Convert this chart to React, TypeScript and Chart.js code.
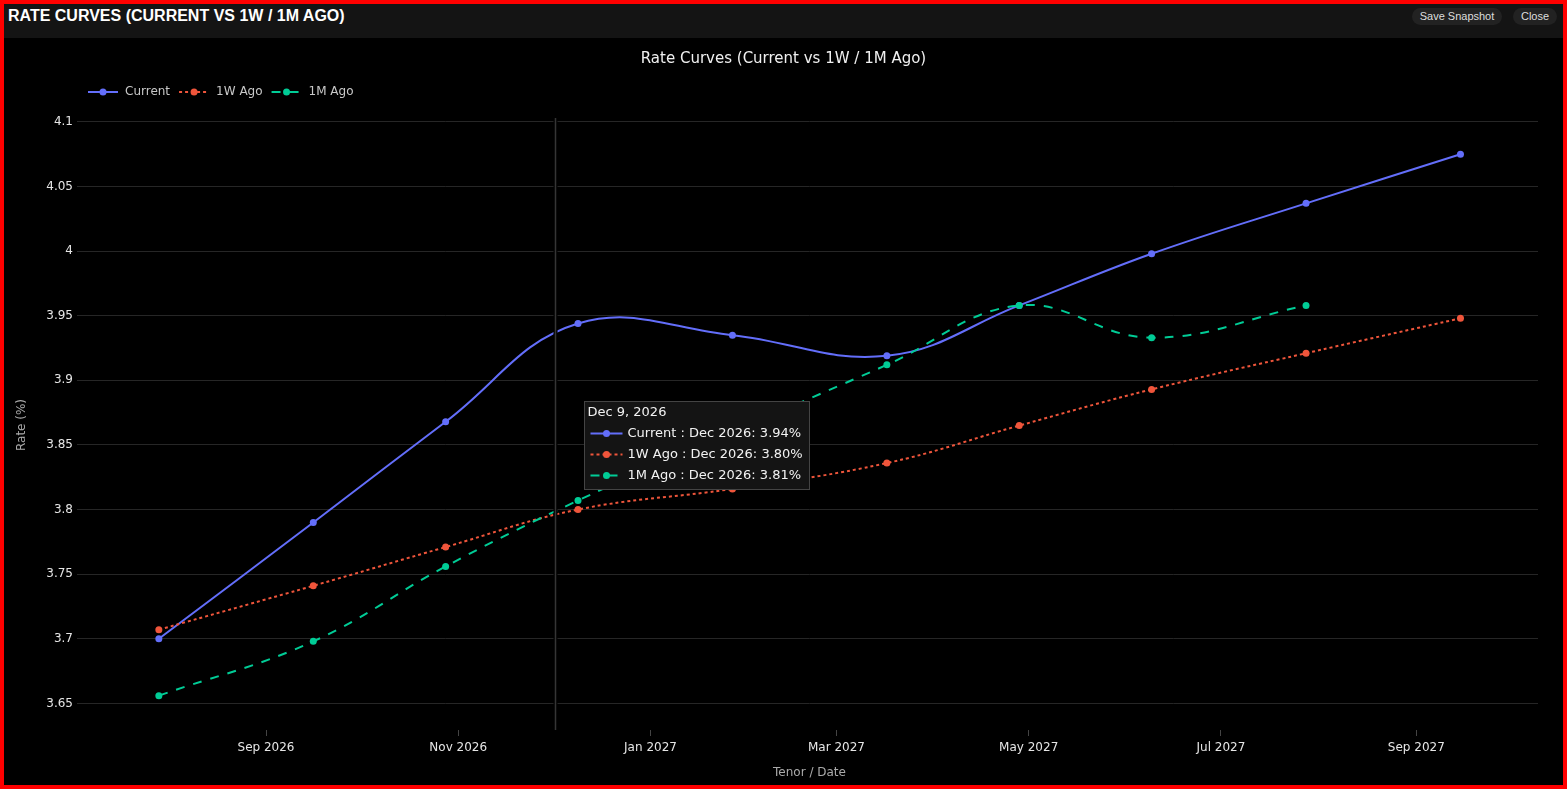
import React, { useEffect, useRef } from "react";
import { Chart, registerables } from "chart.js";

Chart.register(...registerables);

// ---------- data ----------
const tenorDates = [
  "2026-07-29", "2026-09-16", "2026-10-28", "2026-12-09", "2027-01-27",
  "2027-03-17", "2027-04-28", "2027-06-09", "2027-07-28", "2027-09-15",
];
const tenorLabels = [
  "Jul 2026", "Sep 2026", "Oct 2026", "Dec 2026", "Jan 2027",
  "Mar 2027", "Apr 2027", "Jun 2027", "Jul 2027", "Sep 2027",
];
const currentRates = [3.700, 3.790, 3.868, 3.944, 3.935, 3.919, 3.958, 3.998, 4.037, 4.075];
const oneWeekRates = [3.707, 3.741, 3.771, 3.800, 3.816, 3.836, 3.865, 3.893, 3.921, 3.948];
const oneMonthRates = [3.656, 3.698, 3.756, 3.807, 3.860, 3.912, 3.958, 3.933, 3.958];

const seriesNames = ["Current", "1W Ago", "1M Ago"];
const seriesColors = ["#636efa", "#ef553b", "#00cc96"];

const xTickLabels = ["Sep 2026", "Nov 2026", "Jan 2027", "Mar 2027", "May 2027", "Jul 2027", "Sep 2027"];
const yTickValues = [3.65, 3.7, 3.75, 3.8, 3.85, 3.9, 3.95, 4.0, 4.05, 4.1];

const hoverIndex = 3;
const hoverDateLabel = "Dec 9, 2026";
const cursorDate = "2026-12-01T14:00:00Z";

const headerTitle = "RATE CURVES (CURRENT VS 1W / 1M AGO)";
const chartTitle = "Rate Curves (Current vs 1W / 1M Ago)";
const xAxisTitle = "Tenor / Date";
const yAxisTitle = "Rate (%)";

// ---------- helpers ----------
const DAY = 86400000;
const MONTHS = ["Jan", "Feb", "Mar", "Apr", "May", "Jun", "Jul", "Aug", "Sep", "Oct", "Nov", "Dec"];
const toMs = (d: string) => Date.parse(d.length === 10 ? d + "T00:00:00Z" : d);
const labelToMs = (l: string) => {
  const [m, y] = l.split(" ");
  return Date.UTC(+y, MONTHS.indexOf(m), 1);
};
const xTickValues = xTickLabels.map(labelToMs);
const X_MIN = Date.UTC(2026, 8, 1) - 58.7 * DAY;
const X_MAX = Date.UTC(2026, 8, 1) + 403.6 * DAY;

const FONT = "'DejaVu Sans', Verdana, sans-serif";

const seriesValues = [currentRates, oneWeekRates, oneMonthRates];
const dashes = [[], [3, 3], [9, 9]];

function drawSymbol(ctx: CanvasRenderingContext2D, x: number, y: number, w: number, color: string, dash: number[]) {
  ctx.save();
  ctx.strokeStyle = color;
  ctx.lineWidth = 2;
  ctx.setLineDash(dash);
  ctx.beginPath();
  ctx.moveTo(x, y);
  ctx.lineTo(x + w, y);
  ctx.stroke();
  ctx.setLineDash([]);
  ctx.fillStyle = color;
  ctx.beginPath();
  ctx.arc(x + w / 2, y, 3.5, 0, Math.PI * 2);
  ctx.fill();
  ctx.restore();
}

const overlayPlugin = {
  id: "rcOverlay",
  afterDatasetsDraw(chart: any) {
    const { ctx, chartArea, scales } = chart;
    const sx = Math.round(scales.x.getPixelForValue(toMs(cursorDate))) + 0.5;
    ctx.save();
    ctx.strokeStyle = "#000";
    ctx.lineWidth = 4;
    ctx.beginPath();
    ctx.moveTo(sx, chartArea.top - 2);
    ctx.lineTo(sx, chartArea.bottom);
    ctx.stroke();
    ctx.strokeStyle = "#353535";
    ctx.lineWidth = 1.5;
    ctx.beginPath();
    ctx.moveTo(sx, chartArea.top - 2);
    ctx.lineTo(sx, chartArea.bottom);
    ctx.stroke();
    ctx.restore();
  },
  afterDraw(chart: any) {
    const { ctx, chartArea, scales } = chart;
    const datasets = chart.data.datasets;
    // legend
    ctx.save();
    ctx.font = `12px ${FONT}`;
    ctx.textBaseline = "middle";
    ctx.textAlign = "left";
    let lx = chartArea.left + 7;
    const ly = 54;
    datasets.forEach((ds: any) => {
      drawSymbol(ctx, lx, ly, 30, ds.borderColor, ds.borderDash || []);
      ctx.fillStyle = "#c8c8c8";
      ctx.fillText(ds.label, lx + 37, ly);
      lx += 37 + ctx.measureText(ds.label).width + 9;
    });
    ctx.restore();

    // hover label (unified)
    const sx = scales.x.getPixelForValue(toMs(cursorDate));
    const vals = datasets.map((ds: any) => ds.data[hoverIndex].y);
    const mean = vals.reduce((a: number, b: number) => a + b, 0) / vals.length;
    const cy = scales.y.getPixelForValue(mean);
    ctx.save();
    ctx.font = `13px ${FONT}`;
    const lines = datasets.map(
      (ds: any, i: number) => `${ds.label} : ${tenorLabels[hoverIndex]}: ${vals[i].toFixed(2)}%`
    );
    const maxW = Math.max(...lines.map((l: string) => ctx.measureText(l).width));
    const bw = Math.round(6 + 32 + 5 + maxW + 7);
    const bh = 88;
    const bx = Math.round(sx + 29) + 0.5;
    const by = Math.round(cy - bh / 2) + 0.5;
    ctx.fillStyle = "#141414";
    ctx.fillRect(bx, by, bw, bh);
    ctx.strokeStyle = "#444";
    ctx.lineWidth = 1;
    ctx.strokeRect(bx, by, bw, bh);
    ctx.fillStyle = "#f2f2f2";
    ctx.textBaseline = "middle";
    ctx.textAlign = "left";
    ctx.fillText(hoverDateLabel, bx + 3, by + 11);
    datasets.forEach((ds: any, i: number) => {
      const yy = by + 32 + i * 21;
      drawSymbol(ctx, bx + 6, yy, 32, ds.borderColor, ds.borderDash || []);
      ctx.fillStyle = "#f2f2f2";
      ctx.fillText(lines[i], bx + 43, yy);
    });
    ctx.restore();
  },
};

export default function App() {
  const canvasRef = useRef<HTMLCanvasElement | null>(null);

  useEffect(() => {
    document.body.style.margin = "0";
    document.body.style.background = "#000";
    const canvas = canvasRef.current;
    if (!canvas) return;
    const datasets = seriesNames.map((name, s) => ({
      label: name,
      data: seriesValues[s].map((v, i) => ({ x: toMs(tenorDates[i]), y: v })),
      borderColor: seriesColors[s],
      backgroundColor: seriesColors[s],
      pointBackgroundColor: seriesColors[s],
      pointBorderWidth: 0,
      pointRadius: 3.5,
      borderWidth: 2,
      borderDash: dashes[s],
      tension: 0.4,
      fill: false,
      order: 2 - s,
    }));
    const chart = new Chart(canvas, {
      type: "line",
      data: { datasets },
      options: {
        animation: false,
        responsive: false,
        events: [],
        layout: { padding: { left: 0, right: 0, top: 0, bottom: 0 } },
        plugins: {
          legend: { display: false },
          tooltip: { enabled: false },
          title: {
            display: true,
            text: chartTitle,
            color: "#f0f0f0",
            font: { family: FONT, size: 15, weight: "normal" },
            padding: { top: 12, bottom: 52 },
          },
        },
        scales: {
          x: {
            type: "linear",
            min: X_MIN,
            max: X_MAX,
            afterBuildTicks: (scale: any) => {
              scale.ticks = xTickValues.map((v) => ({ value: v }));
            },
            afterFit: (scale: any) => {
              scale.height = 55;
            },
            ticks: {
              autoSkip: false,
              maxRotation: 0,
              color: "#e6e6e6",
              font: { family: FONT, size: 12 },
              padding: 5,
              callback: (_v: any, i: number) => xTickLabels[i],
            },
            grid: {
              display: true,
              drawOnChartArea: false,
              drawTicks: true,
              tickLength: 6,
              tickColor: "#444",
            },
            border: { display: false },
            title: {
              display: true,
              text: xAxisTitle,
              color: "#aaa",
              font: { family: FONT, size: 12 },
              padding: { top: 0, bottom: 5 },
            },
          },
          y: {
            type: "linear",
            min: 3.6294,
            max: 4.1015,
            afterBuildTicks: (scale: any) => {
              scale.ticks = yTickValues.map((v) => ({ value: v }));
            },
            afterFit: (scale: any) => {
              scale.width = 77;
            },
            ticks: {
              color: "#e6e6e6",
              font: { family: FONT, size: 12 },
              padding: 4,
              callback: (v: any) => String(+Number(v).toFixed(2)),
            },
            grid: {
              color: "#262626",
              tickColor: "#262626",
              tickLength: 4,
              lineWidth: 1,
            },
            border: { display: false },
            title: {
              display: true,
              text: yAxisTitle,
              color: "#aaa",
              font: { family: FONT, size: 12 },
              padding: { top: 11, bottom: 0 },
            },
          },
          yRightMargin: {
            type: "linear",
            position: "right",
            display: true,
            min: 0,
            max: 1,
            afterFit: (scale: any) => {
              scale.width = 25;
            },
            ticks: { display: false },
            grid: { display: false, drawTicks: false },
            border: { display: false },
            title: { display: false },
          },
        },
      },
      plugins: [overlayPlugin],
    } as any);
    return () => chart.destroy();
  }, []);

  const btn: React.CSSProperties = {
    position: "absolute",
    top: 4,
    height: 17,
    lineHeight: "17px",
    background: "#222",
    color: "#ddd",
    borderRadius: 9,
    fontFamily: "'Liberation Sans', Arial, sans-serif",
    fontSize: 11,
    textAlign: "center",
    boxSizing: "border-box",
  };

  return (
    <div
      style={{
        position: "relative",
        width: 1567,
        height: 789,
        boxSizing: "border-box",
        border: "4px solid #ff0000",
        background: "#000",
        overflow: "hidden",
      }}
    >
      <div
        style={{
          position: "absolute",
          left: 0,
          top: 0,
          width: 1559,
          height: 34,
          background: "#141414",
        }}
      >
        <div
          style={{
            position: "absolute",
            left: 4,
            top: 3,
            height: 18,
            lineHeight: "18px",
            color: "#fff",
            fontFamily: "'Liberation Sans', Arial, sans-serif",
            fontWeight: "bold",
            fontSize: 16,
            whiteSpace: "nowrap",
          }}
        >
          {headerTitle}
        </div>
        <div style={{ ...btn, left: 1408, width: 90 }}>Save Snapshot</div>
        <div style={{ ...btn, left: 1509, width: 44 }}>Close</div>
      </div>
      <canvas
        ref={canvasRef}
        width={1559}
        height={747}
        style={{ position: "absolute", left: 0, top: 34, width: 1559, height: 747, display: "block" }}
      />
    </div>
  );
}
